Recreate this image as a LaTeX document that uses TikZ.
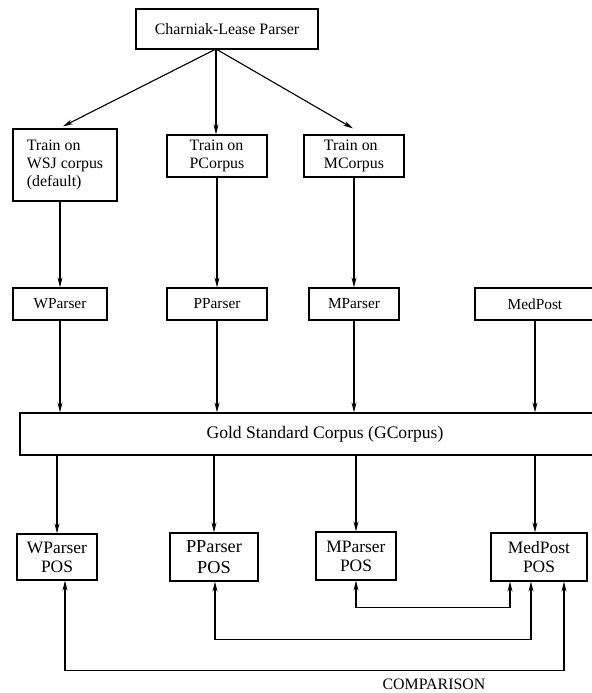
\documentclass[tikz,border=0pt]{standalone}
\usepackage{fontspec}
\setmainfont{Liberation Serif}
\usetikzlibrary{positioning,calc,arrows.meta}

\begin{document}
\begin{tikzpicture}[
    x=0.025cm, y=-0.025cm,
    font=\fontsize{11.3}{13}\selectfont,
    box/.style={draw, line width=0.9pt, inner sep=2pt, align=center},
    trainbox/.style={box, align=left},
    parserbox/.style={box, minimum height=0.8cm, font=\fontsize{10.9}{13}\selectfont},
    posbox/.style={box, minimum height=1.2cm, font=\fontsize{12.4}{13.6}\selectfont},
    flow/.style={draw, line width=0.8pt, -{Stealth[length=7pt, width=3.5pt, inset=2pt]}},
    both/.style={draw, line width=0.8pt, {Stealth[length=7pt, width=3.5pt, inset=2pt]}-{Stealth[length=7pt, width=3.5pt, inset=2pt]}}
]
\useasboundingbox (0,0) rectangle (592,693);
\clip (0,0) rectangle (592,693);

% Parser and training boxes
\node[box, minimum width=4.55cm, minimum height=1cm] (clp) at (227,29) {Charniak-Lease Parser};
\node[trainbox, minimum width=2.6cm, minimum height=1.8cm] (twsj) at (65,165) {Train on\\WSJ corpus\\(default)};
\node[trainbox, minimum width=2.5cm, minimum height=1.05cm] (tpc) at (217,156) {Train on\\PCorpus};
\node[trainbox, minimum width=2.5cm, minimum height=1.05cm] (tmc) at (354,156) {Train on\\MCorpus};

% Trained parsers
\node[parserbox, minimum width=2.35cm] (wp) at (60,304) {WParser};
\node[parserbox, minimum width=2.5cm] (pp) at (217,304) {PParser};
\node[parserbox, minimum width=2.25cm] (mp) at (354,304) {MParser};
\node[parserbox, minimum width=3cm] (med) at (535,304) {MedPost};

% Gold standard
\node[box, minimum width=15.25cm, minimum height=1.05cm, font=\fontsize{12.5}{14}\selectfont] (gold) at (325,434) {Gold Standard Corpus (GCorpus)};

% POS outputs
\node[posbox, minimum width=2cm, minimum height=1.15cm] (wpos) at (57,557) {WParser\\POS};
\node[posbox, minimum width=2.2cm, font=\fontsize{13}{14.5}\selectfont] (ppos) at (214,557) {PParser\\POS};
\node[posbox, minimum width=2cm] (mpos) at (356,556) {MParser\\POS};
\node[posbox, minimum width=2.4cm] (medpos) at (539,557) {MedPost\\POS};

\node (cmp) at (434,684) {COMPARISON};

% Arrows from parser to training
\coordinate (split) at (216,49);
\draw[flow] (split) -- ($(twsj.north)+(-2,-2)$);
\draw[flow] (split) -- (split |- tpc.north);
\draw[flow] (split) -- ($(tmc.north)+(-1,-6)$);

% Training to parsers
\draw[flow] (wp.north |- twsj.south) -- (wp.north);
\draw[flow] (tpc.south) -- (pp.north);
\draw[flow] (tmc.south) -- (mp.north);

% Parsers to gold standard
\draw[flow] (wp.south) -- (wp.south |- gold.north);
\draw[flow] (pp.south) -- (pp.south |- gold.north);
\draw[flow] (mp.south) -- (mp.south |- gold.north);
\draw[flow] (med.south) -- (med.south |- gold.north);

% Gold standard to POS
\draw[flow] (wpos.north |- gold.south) -- (wpos.north);
\draw[flow] (ppos.north |- gold.south) -- (ppos.north);
\draw[flow] (mpos.north |- gold.south) -- (mpos.north);
\draw[flow] (med.south |- gold.south) -- (med.south |- medpos.north);

% Comparison links
\draw[both] (mpos.south) -- ++(0,27) -| ($(medpos.south)+(-29,0)$);
\draw[both] ($(ppos.south)+(1,0)$) -- ++(0,58) -| ($(medpos.south)+(-8,0)$);
\draw[both] ($(wpos.south)+(8,0)$) -- ++(0,90) -| ($(medpos.south)+(25,0)$);

\end{tikzpicture}
\end{document}
